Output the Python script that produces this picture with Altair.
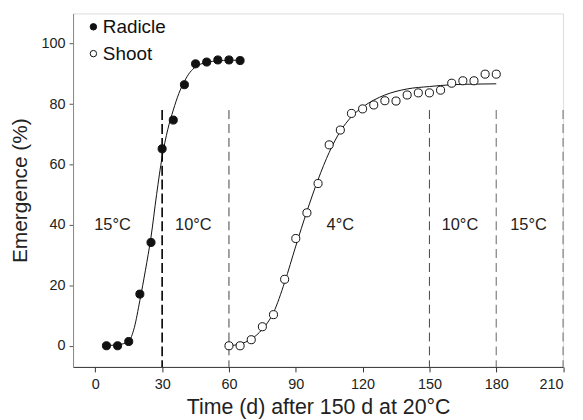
import altair as alt
import pandas as pd

# Observed data
rad_x = [5, 10, 15, 20, 25, 30, 35, 40, 45, 50, 55, 60, 65]
rad_y = [0, 0, 1.4, 17.1, 34.2, 65.2, 74.7, 86.4, 93.3, 93.9, 94.6, 94.6, 94.4]

sh_x = [60, 65, 70, 75, 80, 85, 90, 95, 100, 105, 110, 115, 120, 125, 130, 135,
        140, 145, 150, 155, 160, 165, 170, 175, 180]
sh_y = [0, 0, 2, 6.3, 10.3, 22, 35.5, 44, 53.7, 66.5, 71.4, 76.9, 78.4, 79.7,
        81.1, 81, 83, 83.7, 83.7, 84.6, 86.9, 87.7, 87.7, 89.9, 89.9]

# Fitted curves
rad_fit_x = [5, 10, 15, 17.5, 20, 22.5, 25, 27.5, 30, 32.5, 35, 37.5, 40, 42.5, 45, 50, 55, 60, 65]
rad_fit_y = [0.1, 0.3, 1.5, 6, 15, 25, 36, 50, 62.5, 71.5, 78, 83.5, 87.5, 90.5, 92.3, 93.8, 94.3, 94.5, 94.5]

sh_fit_x = [60, 65, 70, 75, 80, 85, 90, 95, 100, 105, 110, 115, 120, 125, 130, 140, 150, 160, 170, 180]
sh_fit_y = [0, 0.6, 2.2, 5.5, 11, 21, 33, 44.5, 55, 64, 71, 75.8, 79, 81.3, 83, 85, 85.8, 86.4, 86.6, 86.7]

# Temperature change lines and labels
solid_dash_x = [30]
light_dash_x = [60, 150]
gray_dash_x = [180, 210]
line_top = 78
temp_x = [7.7, 44, 110, 163.7, 194.5]
temp_y = [40, 40, 40, 40, 40]
temp_txt = ["15°C", "10°C", "4°C", "10°C", "15°C"]

x_ticks = [0, 30, 60, 90, 120, 150, 180, 210]
y_ticks = [0, 20, 40, 60, 80, 100]

FONT = "Liberation Sans"
xs = alt.Scale(domain=[-10, 210], nice=False)
ys = alt.Scale(domain=[-7, 110], nice=False)

pts = pd.DataFrame({
    "x": rad_x + sh_x,
    "y": rad_y + sh_y,
    "series": ["Radicle"] * len(rad_x) + ["Shoot"] * len(sh_x),
})
fits = pd.DataFrame({
    "x": rad_fit_x + sh_fit_x,
    "y": rad_fit_y + sh_fit_y,
    "series": ["Radicle"] * len(rad_fit_x) + ["Shoot"] * len(sh_fit_x),
})

base_x = alt.X("x:Q", scale=xs, axis=alt.Axis(
    values=x_ticks, title="Time (d) after 150 d at 20°C", grid=False,
    domainColor="#333", tickColor="#333", labelFontSize=14.5, titleFontSize=21.5,
    labelColor="#222", titleColor="#222", labelFont=FONT, titleFont=FONT,
    titleFontWeight="normal", tickSize=5, labelPadding=6, titlePadding=5))
base_y = alt.Y("y:Q", scale=ys, axis=alt.Axis(
    values=y_ticks, title="Emergence (%)", grid=False,
    domainColor="#888", tickColor="#555", labelFontSize=14.5, titleFontSize=21,
    labelColor="#222", titleColor="#222", labelFont=FONT, titleFont=FONT,
    titleFontWeight="normal", tickSize=4, labelPadding=4, titlePadding=11))

rules = []
for xv, col, w, dash in [(solid_dash_x, "#000", 1.6, [10, 4]),
                         (light_dash_x, "#444", 1, [9, 5]),
                         (gray_dash_x, "#888", 1.3, [9, 5])]:
    df = pd.DataFrame({"x": xv, "y": [line_top] * len(xv), "y2": [-7] * len(xv)})
    rules.append(alt.Chart(df).mark_rule(color=col, strokeWidth=w, strokeDash=dash).encode(
        x=alt.X("x:Q", scale=xs), y=alt.Y("y:Q", scale=ys), y2="y2:Q"))

lines = alt.Chart(fits).mark_line(color="#111", strokeWidth=1, interpolate="monotone").encode(
    x=base_x, y=base_y, detail="series:N")

points = alt.Chart(pts).mark_point(shape="circle", size=66, stroke="#111", strokeWidth=1,
                                   opacity=1).encode(
    x=alt.X("x:Q", scale=xs), y=alt.Y("y:Q", scale=ys),
    fill=alt.Fill("series:N", scale=alt.Scale(domain=["Radicle", "Shoot"], range=["#111", "white"]),
                  legend=alt.Legend(title=None, orient="none", legendX=11, legendY=4,
                                    labelFontSize=19, labelFont=FONT, labelColor="#111",
                                    symbolType="circle", symbolSize=42, symbolStrokeColor="#111",
                                    symbolStrokeWidth=1, rowPadding=7, labelOffset=0,
                                    symbolOpacity=1)))

tdf = pd.DataFrame({"x": temp_x, "y": temp_y, "t": temp_txt})
texts = alt.Chart(tdf).mark_text(fontSize=16.5, font=FONT, color="#222").encode(
    x=alt.X("x:Q", scale=xs), y=alt.Y("y:Q", scale=ys), text="t:N")

chart = alt.layer(lines, *rules, points, texts).properties(
    width=493.5, height=356,
    autosize=alt.AutoSizeParams(type="none"),
    padding={"left": 65.5, "top": 4, "right": 12, "bottom": 52},
).configure_view(stroke=None).configure(background="white")

chart.save("out.html", embed_options={"renderer": "svg", "actions": False})
